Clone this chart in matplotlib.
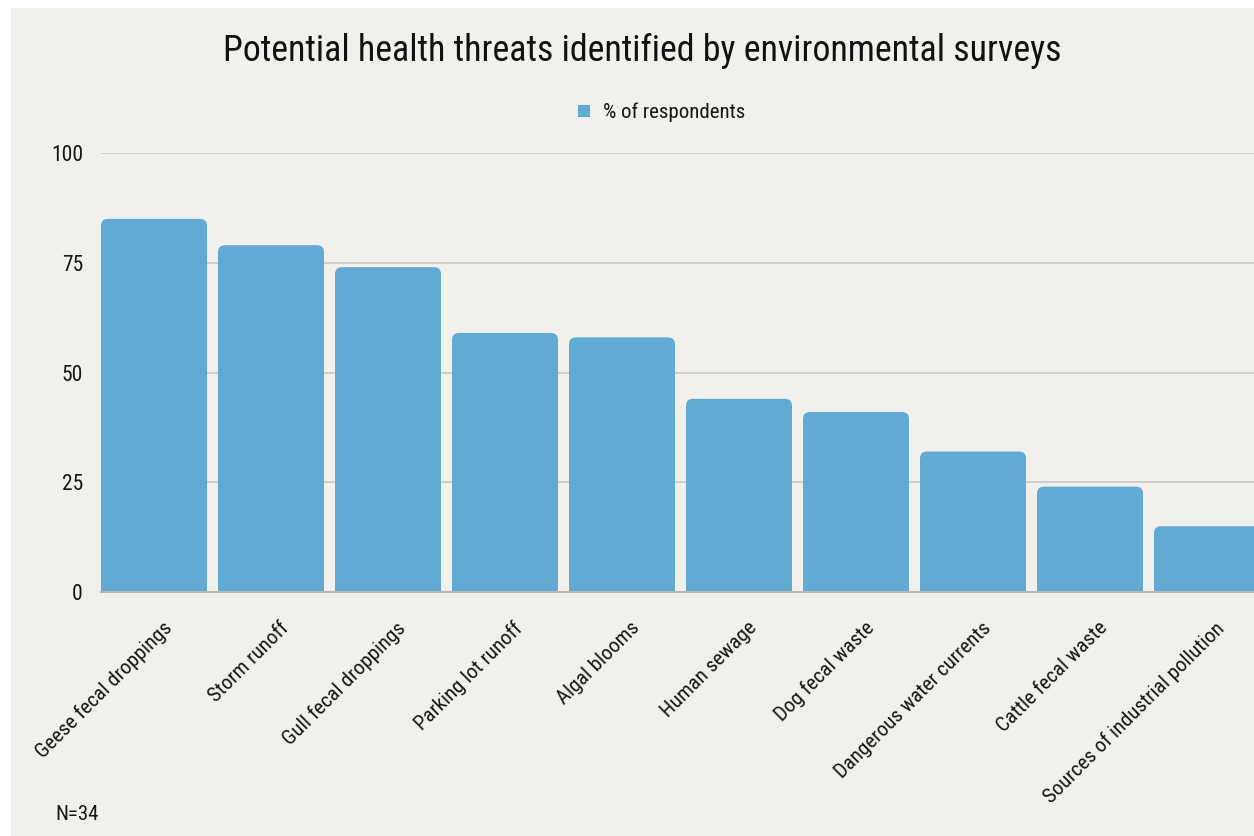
import matplotlib
matplotlib.use("Agg")
import matplotlib.pyplot as plt
from matplotlib import font_manager as fm
from matplotlib.patches import FancyBboxPatch, Rectangle
from matplotlib.transforms import ScaledTranslation

categories = ["Geese fecal droppings", "Storm runoff", "Gull fecal droppings",
              "Parking lot runoff", "Algal blooms", "Human sewage",
              "Dog fecal waste", "Dangerous water currents",
              "Cattle fecal waste", "Sources of industrial pollution"]
values = [85, 79, 74, 59, 58, 44, 41, 32, 24, 15]
yticks = [0, 25, 50, 75, 100]
series_name = "% of respondents"
title = "Potential health threats identified by environmental surveys"
note = "N=34"

# pick a condensed font if one is installed
fam, stretch = "DejaVu Sans", "normal"
cond = [f for f in fm.fontManager.ttflist
        if ("condensed" in str(f.stretch).lower() or "Condensed" in f.name or "Narrow" in f.name)]
pref = ["Roboto Condensed", "Open Sans Condensed", "Liberation Sans Narrow", "DejaVu Sans", "Noto Sans", "Roboto", "Open Sans"]
chosen = None
for p in pref:
    for f in cond:
        if f.name == p:
            chosen = f
            break
    if chosen:
        break
if chosen is None and cond:
    chosen = cond[0]
if chosen is not None:
    fam, stretch = chosen.name, chosen.stretch
plt.rcParams["font.family"] = [fam, "DejaVu Sans"]
plt.rcParams["font.stretch"] = stretch

BG = "#f1f0ec"
BLUE = "#61aad4"
TXT = "#161616"
W, H = 1254, 836
fig = plt.figure(figsize=(W / 100, H / 100), dpi=100, facecolor="white")
fig.patches.append(Rectangle((11 / W, 0), 1 - 11 / W, 1 - 8 / H, transform=fig.transFigure,
                             facecolor=BG, edgecolor="none", zorder=-10))

ax_left, ax_right = 101 / W, 1.0
ax_bottom, ax_top = 1 - 592 / H, 1 - 153 / H
ax = fig.add_axes([ax_left, ax_bottom, ax_right - ax_left, ax_top - ax_bottom])
ax.set_facecolor("none")

x = list(range(len(categories)))
bw = 0.906
bars = ax.bar(x, values, width=bw, color=BLUE, zorder=3)
# replace with rounded-top bars
rx = 0.06
ry = 1.6
for b in bars:
    bx, by = b.get_x(), b.get_y()
    bwid, bh = b.get_width(), b.get_height()
    b.set_visible(False)
    p = FancyBboxPatch((bx, by - 3), bwid, bh + 3,
                       boxstyle=f"round,pad=0,rounding_size={rx}",
                       mutation_aspect=ry / rx,
                       facecolor=BLUE, edgecolor="none", zorder=3)
    ax.add_patch(p)

ax.set_xlim(-bw / 2, -bw / 2 + (W - 101) / 117)
ax.set_ylim(0, 100)
ax.set_yticks(yticks)
ax.set_yticklabels([str(t) for t in yticks], fontsize=15.5, color=TXT)
for t in yticks:
    if t == 0:
        continue
    ax.axhline(t, color="#c9c8c3", lw=1.2, zorder=1)
ax.axhline(0, color="#b9b7b1", lw=1.5, zorder=4, clip_on=False)

ax.set_xticks(x)
ax.set_xticklabels(categories, rotation=45, ha="right", rotation_mode="anchor",
                   fontsize=15, color=TXT)
ax.tick_params(axis="both", length=0)
ax.tick_params(axis="x", pad=19)
ax.tick_params(axis="y", pad=13)
shift = ScaledTranslation(0.08, 0, fig.dpi_scale_trans)
for lab in ax.get_xticklabels():
    lab.set_transform(lab.get_transform() + shift)
for s in ax.spines.values():
    s.set_visible(False)

fig.text(642 / W, 1 - 51 / H, title, ha="center", va="center", fontsize=25.8, color="#111111")
# legend
fig.patches.append(Rectangle((578 / W, 1 - 117 / H), 12 / W, 12 / H, transform=fig.transFigure,
                             facecolor=BLUE, edgecolor="none"))
fig.text(603 / W, 1 - 112 / H, series_name, ha="left", va="center", fontsize=15, color=TXT)
fig.text(55 / W, 1 - 815 / H, note, ha="left", va="center", fontsize=15, color=TXT)

fig.savefig("out.png", dpi=100, facecolor="white")
